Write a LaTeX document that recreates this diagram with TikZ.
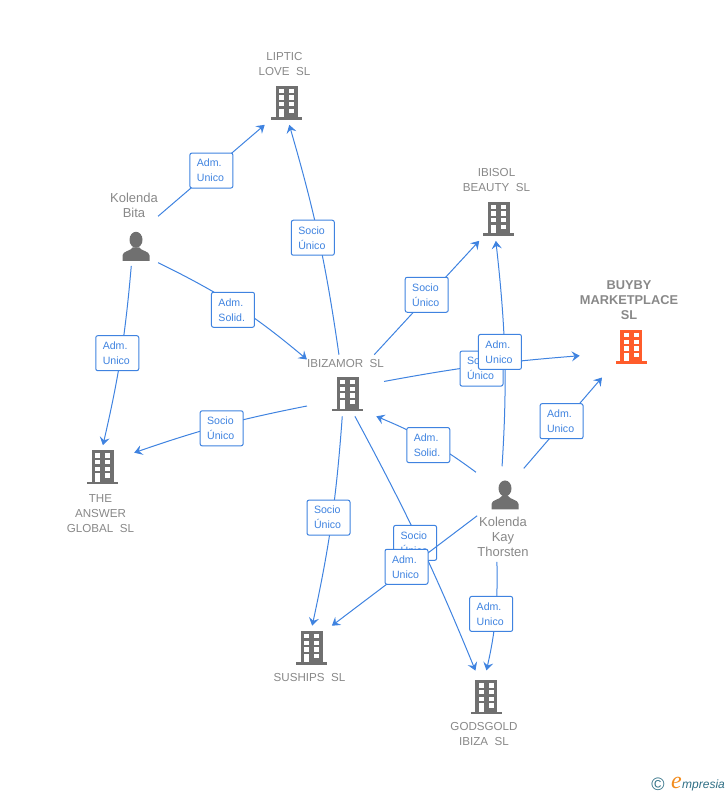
\documentclass[tikz,border=0pt]{standalone}
\usepackage{fontspec}
\setmainfont{Liberation Sans}
\newfontfamily\logofont{Liberation Serif}
\usetikzlibrary{arrows.meta}

\definecolor{linkblue}{HTML}{3F83E0}
\definecolor{iconarea}{HTML}{707070}
\definecolor{labelgray}{HTML}{888888}
\definecolor{targetred}{HTML}{FF5C2B}
\definecolor{logoteal}{HTML}{2F6F85}
\definecolor{logoorange}{HTML}{F28C1E}

% office block and person, kept in boxes so that nodes can stack them under or over their text
\newcommand{\officeblock}[1]{%
	\begin{tikzpicture}[x=1pt,y=-1pt]
		\fill[#1] (0,32) rectangle (31,34.5);
		\fill[#1] (4.5,0.5) rectangle (26.5,32);
		\foreach \wx in {8,18}
			\foreach \wy in {3.5,10.2,16.8,23.5}
				\fill[white] (\wx,\wy) rectangle +(5,4.3);
		\fill[white] (8,23.5) rectangle (13,32);
	\end{tikzpicture}}
\newsavebox{\grayoffice}
\newsavebox{\redoffice}
\newsavebox{\personicon}
\sbox{\grayoffice}{\hspace*{4pt}\officeblock{iconarea}}
\sbox{\redoffice}{\hspace*{4pt}\officeblock{targetred}}
\sbox{\personicon}{\hspace*{4pt}%
	\begin{tikzpicture}[x=1pt,y=-1pt]
		\fill[iconarea] (13.5,7.5) ellipse (6.5 and 8);
		\fill[iconarea] (0,28.5) -- (0,23) .. controls (0.5,18.5) and (8,19) .. (10.5,15) -- (16.5,15) .. controls (19,19) and (26.5,18.5) .. (27,23) -- (27,28.5) -- cycle;
	\end{tikzpicture}}

\tikzset{
	firm/.style={align=center,text=labelgray,font=\fontsize{11.6}{15}\selectfont,inner xsep=0pt,inner ysep=5pt},
	person/.style={align=center,text=labelgray,font=\fontsize{13}{15}\selectfont,inner xsep=0pt,inner ysep=5pt},
	target/.style={align=center,text=labelgray,font=\bfseries\fontsize{12.8}{15}\selectfont,inner xsep=0pt,inner ysep=5pt},
	link/.style={draw=linkblue,line width=1pt,-{Stealth[length=8pt,width=10pt,inset=3pt]}},
	tag/.style={draw=linkblue,fill=white,text=linkblue,rounded corners=2pt,line width=1pt,
		font=\fontsize{10.6}{15}\selectfont,text width=29pt,align=left,inner xsep=7pt,inner ysep=2pt,minimum height=35pt}
}

\begin{document}
\begin{tikzpicture}[x=1pt,y=-1pt]
	\useasboundingbox (0,0) rectangle (728,795);

	\node[firm] (liptic) at (284.5,86) {LIPTIC\\LOVE\ \ SL\\[9pt]\usebox{\grayoffice}};
	\node[firm] (ibisol) at (496.5,202) {IBISOL\\BEAUTY\ \ SL\\[9pt]\usebox{\grayoffice}};
	\node[target] (buyby) at (629,322.5) {BUYBY\\MARKETPLACE\\SL\\[9pt]\usebox{\redoffice}};
	\node[firm] (ibizamor) at (345.5,385.5) {IBIZAMOR\ \ SL\\[8pt]\usebox{\grayoffice}};
	\node[firm] (answer) at (100.5,491.5) {\usebox{\grayoffice}\\[3pt]THE\\ANSWER\\GLOBAL\ \ SL};
	\node[firm] (suships) at (309.5,656.5) {\usebox{\grayoffice}\\[2pt]SUSHIPS\ \ SL};
	\node[firm] (godsgold) at (484,713) {\usebox{\grayoffice}\\[1pt]GODSGOLD\\IBIZA\ \ SL};
	\node[person] (bita) at (134,227) {Kolenda\\Bita\\[13pt]\usebox{\personicon}};
	\node[person] (thorsten) at (503,518.5) {\usebox{\personicon}\\[2pt]Kolenda\\Kay\\Thorsten};

	\draw[link] (bita.24.6) to node[tag] {Adm.\\Unico} (liptic.-117.7);
	\draw[link] (ibizamor.102.6) to[bend right=4] node[tag,xshift=-6pt,yshift=1pt] {Socio\\Único} (liptic.-83.4);
	\draw[link] (bita.-56.3) to[bend left=7] node[tag,xshift=-3pt,yshift=-4pt] {Adm.\\Solid.} (ibizamor.146.5);
	\draw[link] (bita.-94.3) to[bend left=4] node[tag,xshift=-3.5pt,yshift=3pt] {Adm.\\Unico} (answer.87);
	\draw[link] (ibizamor.208.6) to[bend right=4] node[tag,xshift=2pt,yshift=-2.5pt] {Socio\\Único} (answer.49.7);
	\draw[link] (ibizamor.47.7) to node[tag,yshift=3pt] {Socio\\Único} (ibisol.-114);
	\draw[link] (ibizamor.6.7) to[bend left=3] node[tag,yshift=-3pt] {Socio\\Único} (buyby.214.4);
	\draw[link,shorten <=9pt] (thorsten.92.2) to[bend right=5] node[tag,xshift=-4.7pt,yshift=6pt] {Adm.\\Unico} (ibisol.-91);
	\draw[link,shorten <=9pt,shorten >=11pt] (thorsten.71) to node[tag,xshift=-2pt,yshift=1pt] {Adm.\\Unico} (buyby.-113);
	\draw[link,shorten <=5pt] (thorsten.118) to[bend right=7] node[tag,xshift=-2pt,yshift=-3pt] {Adm.\\Solid.} (ibizamor.-45);
	\draw[link] (ibizamor.-96.3) to[bend left=4] node[tag,xshift=-3pt,yshift=4pt] {Socio\\Único} (suships.85.8);
	\draw[link,shorten >=5pt] (ibizamor.-73.2) to[bend left=3] node[tag,xshift=-5pt,yshift=1pt] {Socio\\Único} (godsgold.100.5);
	\draw[link] (thorsten.174.5) to node[tag,xshift=2pt,yshift=4pt] {Adm.\\Unico} (suships.54);
	\draw[link,shorten >=5pt] (thorsten.-98) to[bend left=7] node[tag,xshift=-4pt,yshift=5pt] {Adm.\\Unico} (godsgold.88.7);

	\node[text=logoteal,font=\fontsize{18}{18}\selectfont] (copyright) at (658,784) {©};
	\node[text=logoteal,font=\itshape\fontsize{12}{12}\selectfont,anchor=base west,inner sep=0pt] (brand) at (682,788) {mpresia};
	\node[text=logoorange,font=\logofont\itshape\fontsize{24}{24}\selectfont,anchor=base east,inner sep=0pt] (brandmark) at (brand.base west) {e};
\end{tikzpicture}
\end{document}
